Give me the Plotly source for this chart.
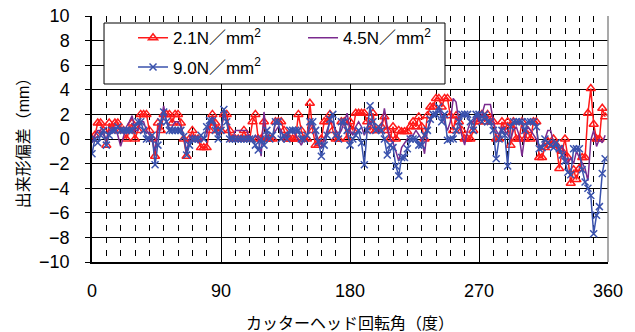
import numpy as np
import plotly.graph_objects as go

# Cutter-head rotation angle (deg), sampled every 2 degrees
angle = np.arange(0, 360, 2)

# Deviation (mm) for each face pressure, 10 degrees (5 samples) per row
dev_2_1 = [
    0, 0.3, 1.3, 1.3, 0.7,
    -0.5, 1.3, 0.7, 1.3, 1.3,
    0.7, 0.7, 0, 0.7, 1.3,
    0, 0.7, 2.0, 2.0, 2.0,
    0.7, 0, -1.4, 1.3, 0.7,
    2.0, 2.0, 2.0, 1.3, 2.0,
    2.0, 1.3, 0, -1.4, 0,
    0.7, 0, 0, -0.7, -0.7,
    -0.7, 0.7, 2.0, 1.3, 0.7,
    0.7, 2.0, 2.0, 0.7, 0,
    0, 0, 0, 0.7, 0,
    0, 1.4, 2.0, 0, 0,
    1.4, 0, 0, 0, 1.4,
    1.4, 1.4, 0.7, 0, 0,
    0, 0, 2.0, 0.7, 0,
    0, 2.9, 0.7, -0.5, -0.5,
    0, 1.4, 1.4, 2.0, 0.7,
    0, 0, 1.4, 1.4, 0,
    1.4, 0.7, 2.1, 2.1, 2.1,
    2.1, 1.4, 0.7, 2.1, 0.7,
    0.7, 1.0, 1.8, 0.7, 0,
    1.0, 0, 0.7, 0.6, 0.6,
    0.6, 1.0, 1.4, 1.0, 1.8,
    1.0, 0, 1.9, 2.6, 2.6,
    3.3, 3.3, 2.6, 3.3, 3.3,
    1.9, 0.7, 1.9, 1.4, 0.7,
    0, 0, 0, 0.7, 1.4,
    1.4, 2.0, 1.4, 2.0, 1.4,
    1.4, 0, 0, 1.4, 0.7,
    1.4, -0.5, 1.4, 0, 0,
    1.4, 0, 0.7, 0, 1.4,
    1.4, -1.5, -1.5, -0.7, -0.2,
    -0.5, 0, -0.5, -2.4, -1.0,
    0, -1.5, -3.6, -2.5, -3.3,
    -2.4, -1.5, -1.5, 2.1, 4.1,
    1.2, 0, 0, 2.5, 1.8,
]

dev_4_5 = [
    -0.3, 0.3, 0.7, 0.7, 0.3,
    0, 0.7, 0.7, 1.0, 0.3,
    -0.6, 0.3, 1.0, 1.4, 1.9,
    0.7, 0.7, 1.4, 1.4, 0.7,
    0.3, 0, -1.0, 0.7, 1.4,
    2.7, 1.4, 0.7, 1.0, 1.4,
    1.4, 1.0, 0.3, -1.0, 0,
    0.3, 0, -0.3, 0, 0,
    0.3, 1.4, 1.8, 1.0, 0.3,
    0.7, 2.0, 1.4, 0.3, 0,
    0.7, 0.7, 0.7, 0.7, 0.7,
    0, 0, 0.3, 0, -1.4,
    2.2, 0, 0, 0.3, 0.7,
    1.0, 0.7, 0, 0.3, 0.7,
    0.7, 0.3, 0, -0.5, 0,
    0.3, 1.0, 1.4, 0.3, -0.5,
    -0.7, 0, 0.7, 1.4, 1.4,
    0.7, 0.3, 0.7, 1.4, 2.1,
    0.7, 0.3, 1.0, 1.4, 1.0,
    0.3, 1.0, 1.4, 1.0, 0.7,
    0.7, 1.0, 2.5, 1.0, 0,
    -0.3, -1.0, -1.8, -0.7, -0.3,
    0, 0.3, 0.3, 0.7, 0.3,
    0, -1.2, 0.7, 1.4, 2.0,
    2.0, 2.6, 2.0, 1.4, 0.7,
    1.4, 3.3, 3.0, 1.4, 0.3,
    -0.5, 0.7, 1.4, 1.4, 2.0,
    1.4, 2.0, 2.8, 2.8, 2.8,
    1.4, 0.7, 0.3, 1.0, 0.7,
    0.3, 0, 0.7, 1.0, 0.3,
    -1.4, 0.3, 1.0, 0.7, 0.3,
    0, -0.7, -0.5, 0, 0.7,
    0.7, -0.3, -0.5, -1.0, -0.5,
    -1.4, -2.0, -1.5, -2.0, -1.0,
    -1.5, -2.0, -2.4, -3.4, -0.1,
    0.7, -0.6, 0, -0.3, 0.3,
]

dev_9_0 = [
    -1.2, 0, -0.3, 0.3, 0.7,
    -0.5, 0.3, 0.7, 0.7, 1.0,
    0.7, 0.7, 0.7, 0.7, 0.7,
    1.0, 1.4, 1.4, 0.7, 0,
    0, 0.3, -2.1, -0.5, 1.4,
    2.2, 1.4, 0.7, 0.7, 0.7,
    0.7, 0.7, 0.2, -1.3, -0.5,
    0, 0, 0, 0.3, 0,
    1.0, 1.5, 1.5, 0.7, 0,
    0.7, 2.4, 1.4, 0, 0,
    0, 0, 0, 0, 0,
    0, 0, -0.5, -0.9, 0,
    -0.5, 0.7, 0, 0.3, 1.4,
    1.4, 0, 0.3, 0, 0.7,
    0.7, 0.7, 0.7, 0, 0,
    0.3, 1.4, 1.4, 0.7, -0.2,
    -1.4, -0.5, 0.3, 1.6, 2.0,
    0.3, 0, 1.4, 1.4, 0.7,
    -0.5, 0, 0.3, 0.7, -0.3,
    -2.1, 0.7, 2.7, 1.4, 0.7,
    1.0, 0.7, 0, -1.3, -0.5,
    -0.7, -2.2, -3.0, -1.5, -1.5,
    -0.8, 0, 0, 0, -0.5,
    -0.5, 0.3, 0.7, 1.6, 2.0,
    2.0, 2.6, 1.4, 2.0, -0.1,
    0, 0, 0.7, 1.4, 2.0,
    2.0, 2.0, 1.4, 0.7, 2.0,
    2.0, 1.4, 2.0, 1.4, 1.4,
    0.7, -1.6, 0, 0.7, 0.3,
    -2.2, 1.0, 1.4, 1.4, 1.4,
    1.4, 0.7, 1.4, 1.4, 1.4,
    1.0, -0.8, -0.7, 0, -0.3,
    -0.5, -0.7, -0.3, -0.8, -1.3,
    -1.8, -2.7, -2.9, -0.8, -0.8,
    -0.8, -2.5, -3.5, -4.0, -4.6,
    -7.7, -6.2, -5.5, -2.8, -1.6,
]

series_names = ["2.1N／mm<sup>2</sup>", "4.5N／mm<sup>2</sup>", "9.0N／mm<sup>2</sup>"]
x_ticks = [0, 90, 180, 270, 360]
y_ticks = [-10, -8, -6, -4, -2, 0, 2, 4, 6, 8, 10]

RED = "#ff1a1a"
PURPLE = "#7a2a8e"
BLUE = "#3a52ad"
FONT = "Liberation Sans, Arial, Noto Sans CJK JP, sans-serif"

fig = go.Figure()
fig.add_trace(go.Scatter(
    x=angle, y=dev_2_1, name=series_names[0], mode="lines+markers",
    line=dict(color=RED, width=1.5),
    marker=dict(symbol="triangle-up-open", size=8, color=RED, line=dict(width=1.5, color=RED)),
    legend="legend",
))
fig.add_trace(go.Scatter(
    x=angle, y=dev_4_5, name=series_names[1], mode="lines",
    line=dict(color=PURPLE, width=1.5),
    legend="legend",
))
fig.add_trace(go.Scatter(
    x=angle, y=dev_9_0, name=series_names[2], mode="lines+markers",
    line=dict(color=BLUE, width=1.5),
    marker=dict(symbol="x-thin-open", size=7, color=BLUE, line=dict(width=1.5, color=BLUE)),
    legend="legend2",
))

legend_common = dict(
    orientation="h", xanchor="left", yanchor="middle",
    bgcolor="rgba(0,0,0,0)", borderwidth=0,
    font=dict(family=FONT, size=17, color="black"),
    entrywidth=125, entrywidthmode="pixels", itemwidth=30,
)

fig.update_layout(
    width=635, height=332,
    margin=dict(l=92, r=27, t=16, b=70, autoexpand=False),
    paper_bgcolor="white", plot_bgcolor="white",
    font=dict(family=FONT, size=18, color="black"),
    legend=dict(x=0.0795, y=0.910, **legend_common),
    legend2=dict(x=0.0795, y=0.791, **legend_common),
    shapes=[
        # legend frame
        dict(type="rect", xref="paper", yref="paper", x0=0.0233, x1=0.6841, y0=0.7236, y1=0.9715,
             line=dict(color="black", width=1), fillcolor="white", layer="above"),
        # right frame edge
        dict(type="line", xref="paper", yref="paper", x0=1, x1=1, y0=0, y1=1,
             line=dict(color="#8c8c8c", width=1.5), layer="above"),
    ],
)

fig.update_xaxes(
    range=[0, 360], tickmode="array", tickvals=x_ticks, automargin=False,
    ticks="", showline=True, linecolor="black", linewidth=1.5,
    showgrid=True, gridcolor="black", gridwidth=1, zeroline=False,
    minor=dict(dtick=10, tick0=0, showgrid=True, gridcolor="black", gridwidth=1,
               griddash="6px,6.3px"),
    tickfont=dict(size=18), ticklabelstandoff=12,
    title=dict(text="カッターヘッド回転角（度）", font=dict(family=FONT, size=16), standoff=19),
)
fig.update_yaxes(
    range=[-10, 10], tickmode="array", tickvals=y_ticks, automargin=False,
    ticks="outside", ticklen=5, tickcolor="black", tickwidth=1,
    showline=True, linecolor="black", linewidth=1.5,
    showgrid=True, gridcolor="black", gridwidth=1, zeroline=False,
    tickfont=dict(size=18), ticklabelstandoff=12,
    title=dict(text="出来形偏差（mm）", font=dict(family=FONT, size=16), standoff=6),
)

fig.write_html("out.html")
